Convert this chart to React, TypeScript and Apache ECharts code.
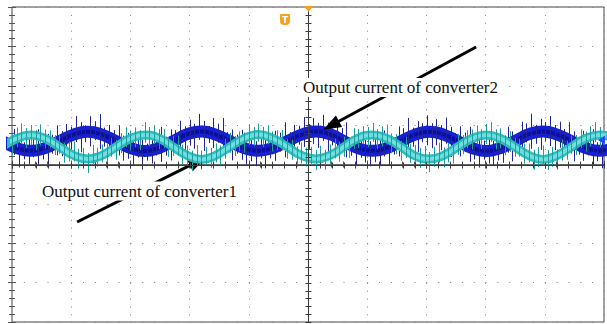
import React, { useEffect, useRef } from "react";
import * as echarts from "echarts";

// Sample positions along the time axis (in screen divisions, 0..10)
const sampleX = [
  -0.16, 0.08, 0.32, 0.56, 0.8, 1.04, 1.28, 1.52, 1.76, 2.0, 2.24, 2.48, 2.72, 2.96, 3.2,
  3.44, 3.68, 3.92, 4.16, 4.4, 4.65, 4.89, 5.13, 5.37, 5.61, 5.85, 6.09, 6.33, 6.57, 6.81,
  7.05, 7.29, 7.53, 7.77, 8.01, 8.25, 8.49, 8.73, 8.97, 9.21, 9.45, 9.69, 9.93, 10.17,
];

// Output current of converter2 (dark blue trace), in vertical divisions
const converter2Y = [
  0.59, 0.42, 0.35, 0.42, 0.59, 0.76, 0.83, 0.76, 0.59, 0.42, 0.34, 0.42, 0.59, 0.77, 0.84,
  0.76, 0.59, 0.42, 0.35, 0.42, 0.59, 0.76, 0.84, 0.77, 0.59, 0.41, 0.35, 0.42, 0.59, 0.76,
  0.83, 0.76, 0.59, 0.42, 0.34, 0.42, 0.59, 0.77, 0.84, 0.76, 0.59, 0.42, 0.35, 0.42,
];

// Output current of converter1 (cyan trace), in vertical divisions
const converter1Y = [
  0.45, 0.66, 0.75, 0.66, 0.45, 0.23, 0.14, 0.23, 0.45, 0.66, 0.75, 0.67, 0.45, 0.23, 0.13,
  0.23, 0.45, 0.66, 0.76, 0.66, 0.45, 0.23, 0.14, 0.23, 0.45, 0.67, 0.75, 0.66, 0.45, 0.22,
  0.14, 0.23, 0.45, 0.66, 0.75, 0.66, 0.45, 0.23, 0.13, 0.23, 0.45, 0.66, 0.75, 0.66,
];

const xRange = [0, 10];
const yRange = [-4, 4];

const label2 = "Output current of converter2";
const label1 = "Output current of converter1";

// Annotation arrows (axis units): [from, to]
const arrow2 = [[7.84, 2.985], [5.39, 0.99]];
const arrow1 = [[1.1, -1.46], [3.14, 0.08]];

// switching-spike length patterns (px), styling of the noisy traces
const blueUp = [14, 9, 18, 11, 7, 16, 12, 20, 8, 13, 10, 17, 9];
const blueDown = [12, 16, 8, 19, 10, 14, 7, 15, 11, 18, 9, 13, 16];
const cyanUp = [9, 12, 7, 11, 14, 8, 10, 6, 13, 9, 11];
const cyanDown = [11, 7, 13, 9, 6, 12, 10, 14, 8, 10, 7];

function spikeSeries(ys: number[], color: string, up: number[], down: number[], shift: number, z: number) {
  const data = sampleX.slice(0, -1).map((x, i) => [x, ys[i], sampleX[i + 1], ys[i + 1]]);
  return {
    type: "custom",
    silent: true,
    clip: true,
    z,
    data,
    encode: { x: [0, 2], y: [1, 3] },
    renderItem: (params: any, api: any) => {
      const p0 = api.coord([api.value(0), api.value(1)]);
      const p1 = api.coord([api.value(2), api.value(3)]);
      const n = 3;
      const children: any[] = [];
      for (let j = 0; j < n; j++) {
        const t = (j + shift) / n;
        const x = Math.round(p0[0] + (p1[0] - p0[0]) * t) + 0.5;
        const y = p0[1] + (p1[1] - p0[1]) * t;
        const k = params.dataIndex * n + j;
        const u = up[k % up.length];
        const d = down[k % down.length];
        children.push({
          type: "line",
          shape: { x1: x, y1: y - u, x2: x, y2: y + d },
          style: { stroke: color, lineWidth: 1 },
        });
      }
      return { type: "group", children };
    },
  };
}

function traceLine(ys: number[], color: string, width: number, z: number) {
  return {
    type: "line",
    silent: true,
    z,
    data: sampleX.map((x, i) => [x, ys[i]]),
    smooth: 0.5,
    symbol: "none",
    clip: true,
    lineStyle: { color, width },
  };
}

const tickStyle = { color: "#555", width: 1 };

function xAxisCfg(position: string, split: boolean) {
  return {
    type: "value",
    position,
    min: xRange[0],
    max: xRange[1],
    interval: 1,
    axisLine: { show: position === "top", lineStyle: { color: "#333", width: 1.5 } },
    axisLabel: { show: false },
    axisTick: { show: true, inside: true, length: 4, lineStyle: tickStyle },
    minorTick: { show: true, splitNumber: 5, length: 3, lineStyle: tickStyle },
    splitLine: { show: split, lineStyle: { color: "#808080", width: 1, type: [1, 6.88] } },
  };
}

function yAxisCfg(position: string, split: boolean) {
  return {
    type: "value",
    position,
    min: yRange[0],
    max: yRange[1],
    interval: 1,
    axisLine: { show: false },
    axisLabel: { show: false },
    axisTick: { show: true, inside: true, length: 4, lineStyle: tickStyle },
    minorTick: { show: true, splitNumber: 5, length: 3, lineStyle: tickStyle },
    splitLine: { show: split, lineStyle: { color: "#808080", width: 1, type: [1, 10.84] } },
  };
}

export default function App() {
  const ref = useRef<HTMLDivElement>(null);

  useEffect(() => {
    if (!ref.current) return;
    const chart = echarts.init(ref.current, undefined, { renderer: "svg" });

    const centerAxes = {
      type: "custom",
      silent: true,
      z: 8,
      data: [[5, 0]],
      renderItem: (_p: any, api: any) => {
        const children: any[] = [];
        const st = { stroke: "#3a3a3a", lineWidth: 1 };
        const l = api.coord([xRange[0], 0]);
        const r = api.coord([xRange[1], 0]);
        const t = api.coord([5, yRange[1]]);
        const b = api.coord([5, yRange[0]]);
        const cy = Math.round(l[1]) + 0.5;
        const cx = Math.round(t[0]) + 0.5;
        children.push({ type: "line", shape: { x1: l[0], y1: cy, x2: r[0], y2: cy }, style: st });
        children.push({ type: "line", shape: { x1: cx, y1: t[1], x2: cx, y2: b[1] }, style: st });
        for (let i = 0; i <= 50; i++) {
          const v = xRange[0] + i * 0.2;
          const p = api.coord([v, 0]);
          const px = Math.round(p[0]) + 0.5;
          children.push({ type: "line", shape: { x1: px, y1: cy - 3, x2: px, y2: cy + 3 }, style: st });
        }
        for (let i = 0; i <= 40; i++) {
          const v = yRange[0] + i * 0.2;
          const p = api.coord([5, v]);
          const py = Math.round(p[1]) + 0.5;
          children.push({ type: "line", shape: { x1: cx - 3, y1: py, x2: cx + 3, y2: py }, style: st });
        }
        return { type: "group", children };
      },
    };

    const arrows = {
      type: "line",
      silent: true,
      z: 9,
      data: [],
      markLine: {
        silent: true,
        symbol: ["none", "triangle"],
        symbolSize: [13, 18],
        label: { show: false },
        lineStyle: { color: "#000", width: 3, type: "solid" },
        data: [
          [{ coord: arrow2[0] }, { coord: arrow2[1] }],
          [{ coord: arrow1[0] }, { coord: arrow1[1] }],
        ],
      },
    };

    chart.setOption({
      animation: false,
      backgroundColor: "#fff",
      grid: { left: 12, top: 7, right: 3, bottom: 2, show: true, borderColor: "#444", borderWidth: 1 },
      xAxis: [xAxisCfg("bottom", true), xAxisCfg("top", false)],
      yAxis: [yAxisCfg("left", true), yAxisCfg("right", false)],
      series: [
        traceLine(converter2Y, "#1521d2", 12, 2),
        traceLine(converter2Y, "#0b0f9e", 4, 3),
        spikeSeries(converter2Y, "#22229a", blueUp, blueDown, 0.5, 4),
        traceLine(converter1Y, "#2ebcbc", 9, 5),
        traceLine(converter1Y, "#6fdede", 4, 6),
        spikeSeries(converter1Y, "#1e9e9e", cyanUp, cyanDown, 0.0, 7),
        centerAxes,
        arrows,
      ],
      graphic: [
        {
          type: "text",
          z: 100,
          x: 301,
          y: 87.5,
          style: {
            text: label2,
            fontSize: 17,
            fontFamily: "Liberation Serif",
            fill: "#111",
            verticalAlign: "middle",
            backgroundColor: "#fff",
            padding: [1, 2, 1, 2],
          },
        },
        {
          type: "text",
          z: 100,
          x: 40,
          y: 191,
          style: {
            text: label1,
            fontSize: 17,
            fontFamily: "Liberation Serif",
            fill: "#111",
            verticalAlign: "middle",
            backgroundColor: "#fff",
            padding: [1, 2, 1, 2],
          },
        },
        {
          type: "group",
          z: 100,
          x: 280,
          y: 14,
          children: [
            { type: "rect", shape: { x: 0, y: 0, width: 10, height: 11, r: [1, 1, 4, 4] }, style: { fill: "#f5a11c" } },
            {
              type: "text",
              x: 5,
              y: 5.5,
              style: { text: "T", fontSize: 9, fontWeight: "bold", fontFamily: "DejaVu Sans", fill: "#fff", align: "center", verticalAlign: "middle" },
            },
          ],
        },
        { type: "polygon", z: 100, shape: { points: [[304, 6], [313, 6], [308.5, 12]] }, style: { fill: "#f5a11c" } },
        { type: "polygon", z: 100, shape: { points: [[598, 140], [605, 135.5], [605, 144.5]] }, style: { fill: "#1f4cff" } },
      ],
    });

    return () => chart.dispose();
  }, []);

  return (
    <div
      ref={ref}
      style={{ position: "absolute", left: 0, top: 0, width: 607, height: 324, background: "#fff" }}
    />
  );
}
